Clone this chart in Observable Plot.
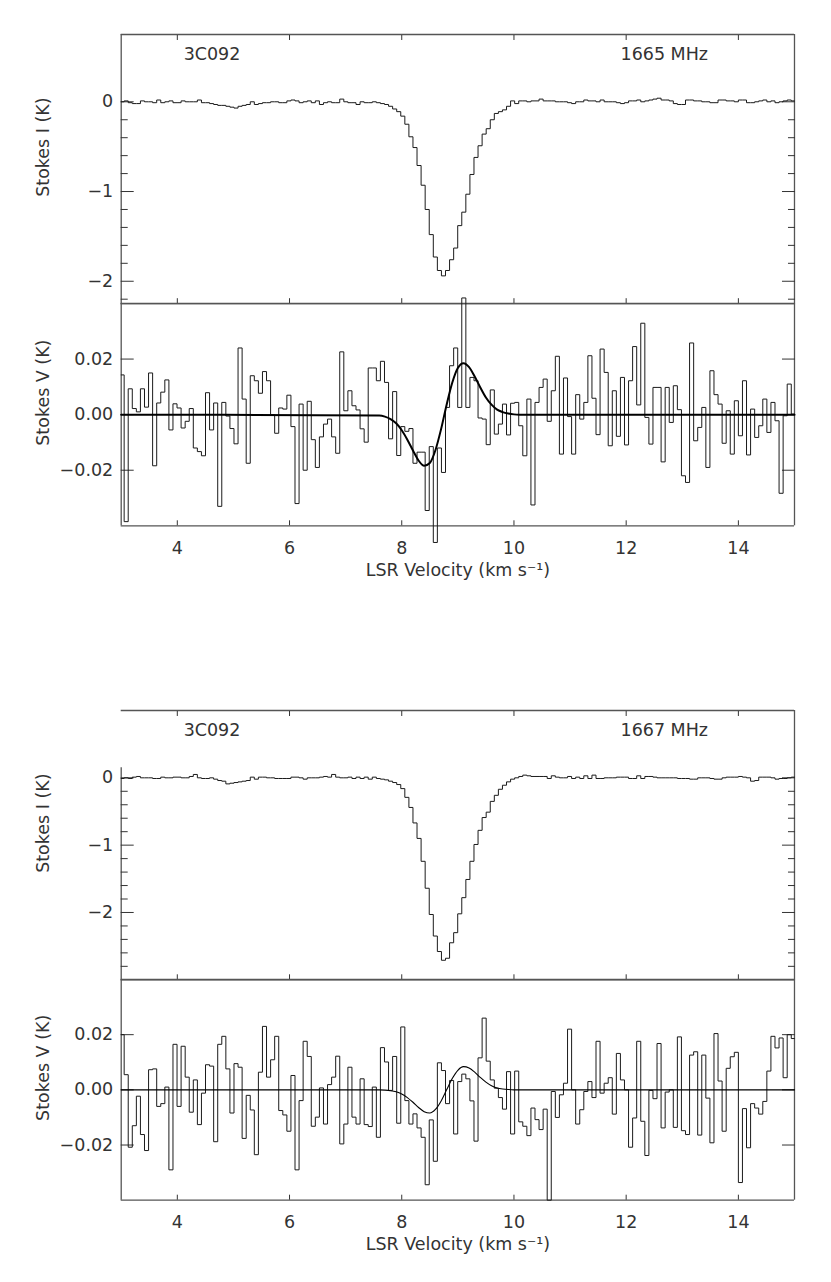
<!DOCTYPE html>
<html><head><meta charset="utf-8">
<script src="https://cdn.jsdelivr.net/npm/d3@7"></script>
<script src="https://cdn.jsdelivr.net/npm/@observablehq/plot@0.6"></script>
<style>
html,body{margin:0;padding:0;background:#fff;}
#chart{position:relative;width:831px;height:1282px;overflow:hidden;background:#fff;}
#chart svg{position:absolute;left:0;}
</style></head><body><div id="chart"></div>
<script>
// ---- channel grid (LSR velocity, km/s) ----
const CHAN_START = 2.98;
const CHAN_WIDTH = 0.0725;

// ---- tick values ----
const xTicks = [4, 6, 8, 10, 12, 14];
const iMajor1665 = [0, -1, -2];
const iMinor1665 = [-0.2, -0.4, -0.6, -0.8, -1.2, -1.4, -1.6, -1.8, -2.2];
const iMajor1667 = [0, -1, -2];
const iMinor1667 = [-0.2, -0.4, -0.6, -0.8, -1.2, -1.4, -1.6, -1.8, -2.2, -2.4, -2.6, -2.8];
const vMajor = [0.02, 0, -0.02];

// ---- text ----
const sourceName = "3C092";
const freqLabels = ["1665 MHz", "1667 MHz"];
const yLabelI = "Stokes I (K)";
const yLabelV = "Stokes V (K)";
const xLabel = "LSR Velocity (km s\u207B\u00B9)";

// ---- Stokes I, 1665 MHz (K), one value per channel ----
const stokesI1665 = [
  0.00, 0.01, -0.01, -0.02, -0.02, 0.01, 0.00, 0.00, -0.01, 0.02,
  -0.01, 0.00, 0.01, -0.01, -0.01, 0.01, 0.00, 0.00, 0.00, 0.02,
  -0.01, -0.01, -0.02, -0.03, -0.04, -0.04, -0.05, -0.06, -0.07, -0.05,
  -0.04, -0.03, 0.00, -0.03, -0.02, -0.01, -0.01, 0.00, 0.00, -0.01,
  -0.01, 0.01, 0.02, 0.01, -0.01, 0.00, 0.01, -0.01, 0.01, -0.03,
  -0.01, 0.00, -0.01, -0.01, 0.03, 0.00, -0.01, -0.01, -0.03, 0.00,
  -0.01, -0.01, 0.00, -0.01, -0.02, -0.03, -0.05, -0.08, -0.11, -0.16,
  -0.25, -0.39, -0.51, -0.71, -0.93, -1.20, -1.48, -1.73, -1.88, -1.94,
  -1.88, -1.76, -1.63, -1.38, -1.23, -1.03, -0.81, -0.62, -0.49, -0.36,
  -0.30, -0.20, -0.13, -0.11, -0.09, -0.05, 0.01, -0.02, 0.01, 0.01,
  0.00, 0.01, 0.01, 0.03, 0.01, 0.01, 0.01, 0.00, 0.00, 0.00,
  -0.01, -0.02, 0.00, 0.00, 0.02, 0.01, 0.01, 0.00, 0.02, 0.00,
  0.00, 0.00, -0.01, -0.02, -0.01, 0.01, 0.01, 0.02, 0.00, 0.01,
  0.02, 0.03, 0.04, 0.02, 0.02, 0.01, -0.02, -0.03, -0.03, 0.02,
  0.02, 0.01, 0.01, 0.00, 0.00, -0.01, -0.01, 0.02, 0.02, 0.01,
  0.01, 0.00, 0.02, 0.02, -0.01, -0.01, 0.00, 0.01, 0.02, 0.00,
  0.01, -0.01, 0.00, 0.01, 0.02, 0.01
];

// ---- Stokes V, 1665 MHz (K) ----
const stokesV1665 = [
  0.0143, -0.0385, 0.0093, 0.0022, 0.0010, 0.0093, 0.0027, 0.0150, -0.0184, 0.0042,
  0.0081, 0.0125, -0.0055, 0.0039, 0.0024, -0.0048, -0.0024, 0.0022, -0.0120, -0.0133,
  -0.0148, 0.0079, -0.0055, 0.0042, -0.0330, 0.0044, -0.0005, -0.0050, -0.0105, 0.0240,
  0.0056, -0.0175, 0.0140, 0.0122, 0.0077, 0.0155, 0.0122, 0.0000, -0.0067, 0.0024,
  0.0020, 0.0070, -0.0043, -0.0320, 0.0038, -0.0200, 0.0048, -0.0090, -0.0190, -0.0080,
  -0.0034, -0.0016, -0.0080, -0.0139, 0.0226, 0.0014, 0.0086, 0.0032, 0.0017, -0.0051,
  -0.0099, 0.0168, 0.0168, 0.0122, 0.0192, 0.0116, -0.0087, 0.0083, -0.0147, -0.0043,
  -0.0060, -0.0050, -0.0175, -0.0135, -0.0135, -0.0345, -0.0115, -0.0460, -0.0120, -0.0208,
  0.0026, 0.0176, 0.0240, 0.0026, 0.0420, 0.0026, 0.0134, 0.0122, -0.0012, -0.0016,
  -0.0108, 0.0089, -0.0070, -0.0034, 0.0038, -0.0073, 0.0041, 0.0044, -0.0040, -0.0148,
  0.0056, -0.0325, 0.0044, 0.0098, 0.0128, -0.0024, 0.0086, 0.0210, -0.0142, 0.0132,
  -0.0007, -0.0142, 0.0072, -0.0016, 0.0044, 0.0212, 0.0059, -0.0072, 0.0236, 0.0152,
  -0.0112, 0.0086, -0.0078, 0.0134, -0.0109, 0.0122, 0.0245, 0.0035, 0.0329, -0.0010,
  -0.0106, 0.0098, 0.0098, -0.0170, 0.0098, -0.0028, 0.0104, 0.0018, -0.0220, -0.0244,
  0.0258, -0.0094, -0.0046, 0.0026, -0.0190, 0.0158, 0.0072, 0.0038, -0.0103, 0.0014,
  -0.0142, 0.0050, -0.0076, 0.0122, -0.0145, 0.0020, -0.0082, -0.0040, 0.0056, -0.0064,
  0.0044, -0.0022, -0.0283, -0.0004, 0.0110, 0.0002
];

// ---- Stokes I, 1667 MHz (K) ----
const stokesI1667 = [
  -0.01, 0.00, -0.01, 0.01, 0.02, 0.00, 0.00, 0.00, -0.01, -0.01,
  0.01, 0.00, 0.00, 0.01, 0.01, 0.00, 0.00, 0.02, 0.05, 0.00,
  -0.01, -0.01, 0.00, -0.02, -0.04, -0.05, -0.09, -0.08, -0.07, -0.06,
  -0.05, -0.04, 0.01, -0.02, 0.01, 0.01, 0.00, 0.00, -0.01, -0.01,
  -0.01, -0.01, 0.01, 0.01, 0.00, -0.02, 0.00, 0.00, 0.00, 0.01,
  0.02, 0.01, 0.05, 0.01, 0.00, 0.00, 0.01, -0.01, 0.01, -0.01,
  0.01, -0.02, 0.01, -0.01, -0.02, -0.03, -0.05, -0.07, -0.10, -0.16,
  -0.29, -0.44, -0.67, -0.90, -1.24, -1.64, -2.03, -2.35, -2.58, -2.71,
  -2.68, -2.45, -2.30, -2.02, -1.78, -1.51, -1.24, -0.99, -0.78, -0.59,
  -0.51, -0.35, -0.26, -0.17, -0.11, -0.06, -0.02, 0.00, 0.02, 0.04,
  0.03, 0.02, 0.02, 0.02, 0.02, -0.01, 0.03, 0.01, 0.00, 0.00,
  0.02, -0.01, 0.01, -0.01, 0.03, -0.01, 0.04, -0.01, -0.01, 0.00,
  0.00, 0.00, 0.01, 0.01, 0.01, -0.01, -0.01, 0.03, -0.01, 0.02,
  0.02, 0.01, 0.00, 0.00, 0.00, 0.00, 0.00, -0.01, -0.01, -0.01,
  -0.02, -0.02, 0.00, 0.00, 0.00, -0.01, -0.02, -0.02, 0.00, 0.01,
  0.01, 0.01, 0.02, 0.01, 0.00, -0.05, -0.04, 0.01, 0.01, 0.01,
  0.00, -0.02, -0.01, -0.01, 0.00, 0.01
];

// ---- Stokes V, 1667 MHz (K) ----
const stokesV1667 = [
  0.0200, 0.0055, -0.0208, -0.0130, -0.0023, -0.0162, -0.0220, 0.0073, 0.0076, -0.0060,
  -0.0050, 0.0010, -0.0290, 0.0165, -0.0060, 0.0158, 0.0046, -0.0081, 0.0036, -0.0126,
  -0.0012, 0.0091, 0.0086, -0.0188, 0.0165, 0.0194, 0.0076, -0.0084, 0.0095, 0.0082,
  -0.0176, -0.0020, -0.0073, -0.0235, 0.0064, 0.0230, 0.0046, 0.0109, 0.0194, -0.0075,
  -0.0091, -0.0150, 0.0052, -0.0290, -0.0039, 0.0176, 0.0121, -0.0132, -0.0099, 0.0007,
  -0.0124, 0.0019, 0.0046, 0.0122, -0.0196, -0.0124, 0.0082, -0.0099, -0.0124, 0.0040,
  -0.0126, -0.0133, 0.0010, -0.0172, 0.0153, 0.0101, -0.0002, 0.0121, -0.0121, 0.0228,
  -0.0039, -0.0124, -0.0087, -0.0138, -0.0172, -0.0344, -0.0109, -0.0259, 0.0098, 0.0070,
  -0.0050, 0.0034, -0.0160, 0.0030, 0.0057, 0.0040, -0.0040, -0.0186, 0.0116, 0.0260,
  0.0104, 0.0036, 0.0006, -0.0028, -0.0070, 0.0066, -0.0160, 0.0068, -0.0116, -0.0132,
  -0.0166, -0.0066, -0.0108, -0.0144, -0.0070, -0.0400, -0.0006, -0.0100, -0.0018, 0.0024,
  0.0220, 0.0000, -0.0124, -0.0072, -0.0006, 0.0030, -0.0028, 0.0176, -0.0012, 0.0024,
  0.0044, -0.0088, 0.0132, 0.0036, 0.0000, -0.0208, -0.0102, 0.0176, -0.0114, -0.0238,
  -0.0002, -0.0032, 0.0168, -0.0138, -0.0008, 0.0000, -0.0136, 0.0192, -0.0148, -0.0162,
  0.0126, 0.0138, -0.0164, 0.0126, -0.0030, -0.0192, 0.0204, 0.0032, -0.0150, 0.0078,
  0.0120, 0.0136, -0.0336, -0.0068, -0.0210, -0.0050, -0.0066, -0.0088, -0.0042, 0.0068,
  0.0194, 0.0152, 0.0188, 0.0044, 0.0200, 0.0186
];

// ---- fitted Stokes V curves ----
const fitVel  = [3.0, 7.6, 7.7, 7.8, 7.9, 8.0, 8.1, 8.2, 8.3, 8.4, 8.5, 8.6, 8.7, 8.8, 8.9, 9.0, 9.1, 9.2, 9.3, 9.4, 9.5, 9.6, 9.7, 9.8, 9.9, 10.0, 10.1, 15.0];
const fit1665 = [0, -0.0003, -0.0007, -0.0016, -0.0031, -0.0056, -0.0090, -0.0129, -0.0165, -0.0184, -0.0174, -0.0128, -0.0053, 0.0036, 0.0115, 0.0168, 0.0185, 0.0171, 0.0137, 0.0098, 0.0062, 0.0036, 0.0018, 0.0009, 0.0004, 0.0001, 0, 0];
const fit1667 = [0, 0, -0.0001, -0.0003, -0.0007, -0.0015, -0.0028, -0.0045, -0.0064, -0.0079, -0.0084, -0.0071, -0.0041, 0.0000, 0.0041, 0.0071, 0.0084, 0.0079, 0.0064, 0.0045, 0.0028, 0.0015, 0.0007, 0.0003, 0.0001, 0, 0, 0];

// ---- layout ----
const W = 831, ML = 120.7, MR = 37, MT = 30, MB = 60;
const FONT = "DejaVu Sans";
const LINE = "#1a1a1a", FRAME = "#555", TEXT = "#333";

function stepPoints(values) {
  const pts = values.map((v, i) => ({vel: Math.max(3, CHAN_START + i * CHAN_WIDTH), val: v}));
  pts.push({vel: Math.min(15, CHAN_START + values.length * CHAN_WIDTH), val: values[values.length - 1]});
  return pts;
}

function panel(o) {
  const h = o.bottom - o.top;
  const [y0, y1] = o.domain;
  const marks = [
    Plot.ruleY([y0, y1], {x1: 3, x2: 15, stroke: FRAME, strokeWidth: 1.3}),
    Plot.ruleX([3], {y1: y0, y2: o.leftTop ?? y1, stroke: FRAME, strokeWidth: 1.3}),
    Plot.ruleX([15], {y1: y0, y2: y1, stroke: FRAME, strokeWidth: 1.3}),
    Plot.axisX(xTicks, {anchor: "bottom", tickSize: -5, fill: "none", stroke: "#333", label: null}),
    Plot.axisY(o.major, {anchor: "left", tickSize: -13, fill: "none", stroke: "#333", label: null}),
    Plot.axisY(o.major, {anchor: "right", tickSize: -13, fill: "none", stroke: "#333", label: null}),
    Plot.axisY(o.major, {anchor: "left", tickSize: 0, tickPadding: 8, tickFormat: o.fmt, fill: TEXT, label: null}),
    Plot.text([o.ylabel], {text: d => d, frameAnchor: "left", dx: 43 - ML, dy: -22, rotate: -90,
      textAnchor: "middle", lineAnchor: "middle", fill: TEXT})
  ];
  if (o.minor) {
    marks.push(
      Plot.axisY(o.minor, {anchor: "left", tickSize: -7, fill: "none", stroke: "#333", label: null}),
      Plot.axisY(o.minor, {anchor: "right", tickSize: -7, fill: "none", stroke: "#333", label: null})
    );
  }
  if (o.topTicks) marks.push(Plot.axisX(xTicks, {anchor: "top", tickSize: -5, fill: "none", stroke: "#333", label: null}));
  if (o.xLabels) {
    marks.push(
      Plot.axisX(xTicks, {anchor: "bottom", tickSize: 0, tickPadding: 15.5, tickFormat: d => String(d), fill: TEXT, label: null}),
      Plot.text([xLabel], {text: d => d, frameAnchor: "bottom", dy: 50, textAnchor: "middle", lineAnchor: "bottom", fill: TEXT})
    );
  }
  if (o.title) {
    marks.push(
      Plot.text([sourceName], {text: d => d, frameAnchor: "top-left", dx: 90.8, dy: 13.5, textAnchor: "middle", lineAnchor: "top", fill: TEXT}),
      Plot.text([o.title], {text: d => d, frameAnchor: "top-left", dx: 543.1, dy: 13.5, textAnchor: "middle", lineAnchor: "top", fill: TEXT})
    );
  }
  marks.push(Plot.line(stepPoints(o.values), {x: "vel", y: "val", curve: "step-after", stroke: LINE, strokeWidth: 1}));
  if (o.fit) {
    marks.push(Plot.line(fitVel.map((v, i) => ({vel: v, val: o.fit[i]})),
      {x: "vel", y: "val", curve: "monotone-x", stroke: "#000", strokeWidth: o.fitWidth}));
  }
  const svg = Plot.plot({
    width: W, height: MT + h + MB,
    marginLeft: ML, marginRight: MR, marginTop: MT, marginBottom: MB,
    x: {domain: [3, 15]},
    y: {domain: [y0, y1]},
    style: {fontFamily: FONT, fontSize: "17.5px", background: "transparent", overflow: "visible", color: "#333"},
    marks
  });
  svg.style.top = (o.top - MT) + "px";
  document.getElementById("chart").appendChild(svg);
}

panel({top: 33.5, bottom: 302.7, domain: [-2.25, 0.75], values: stokesI1665, major: iMajor1665, minor: iMinor1665,
  fmt: d3.format("d"), ylabel: yLabelI, title: freqLabels[0], topTicks: true});
panel({top: 302.7, bottom: 525, domain: [-0.04, 0.04], values: stokesV1665, major: vMajor,
  fmt: d3.format(".2f"), ylabel: yLabelV, xLabels: true, fit: fit1665, fitWidth: 2});
panel({top: 710, bottom: 979.3, domain: [-3, 1], values: stokesI1667, major: iMajor1667, minor: iMinor1667,
  fmt: d3.format("d"), ylabel: yLabelI, title: freqLabels[1], topTicks: true, leftTop: 0.15});
panel({top: 979.3, bottom: 1200, domain: [-0.04, 0.04], values: stokesV1667, major: vMajor,
  fmt: d3.format(".2f"), ylabel: yLabelV, xLabels: true, fit: fit1667, fitWidth: 1.1});
</script></body></html>
